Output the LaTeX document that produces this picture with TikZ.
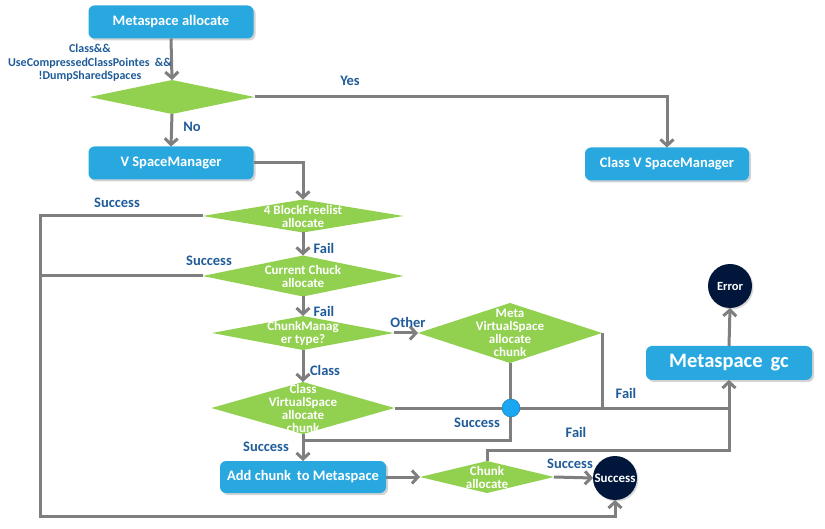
\documentclass[tikz,border=0pt]{standalone}
\usepackage{fontspec}
\setmainfont{Carlito}
\usetikzlibrary{shapes.geometric,arrows.meta,shadows}
\definecolor{boxblue}{HTML}{29A8E0}
\definecolor{dgreen}{HTML}{92D050}
\definecolor{lgray}{HTML}{7F7F7F}
\definecolor{lblue}{HTML}{1F5C99}
\definecolor{navy}{HTML}{00163A}
\definecolor{dotblue}{HTML}{1AA7F2}
\begin{document}
\begin{tikzpicture}[x=1pt,y=-1pt,
  bbox/.style={rectangle,rounded corners=6pt,fill=boxblue,text=white,font=\bfseries\fontsize{14.5}{16}\selectfont,
    inner sep=0pt,outer sep=0pt,drop shadow={shadow xshift=2pt,shadow yshift=-2pt,opacity=0.35}},
  dia/.style={diamond,fill=dgreen,inner sep=0pt,outer sep=0pt},
  dtext/.style={text=white,font=\bfseries\fontsize{13}{13}\selectfont,align=center,inner sep=0pt},
  endc/.style={circle,fill=navy,text=white,minimum size=44pt,inner sep=0pt,outer sep=0pt,
    drop shadow={shadow xshift=1.5pt,shadow yshift=-1.5pt,opacity=0.3}},
  lab/.style={text=lblue,font=\bfseries\fontsize{14.5}{16}\selectfont,inner sep=0pt},
  conn/.style={draw=lgray,line width=3pt},
  arr/.style={conn,-{Straight Barb[length=6pt,width=13pt]}}]
\useasboundingbox (0,0) rectangle (825,529);

% nodes
\node[bbox,minimum width=165pt,minimum height=33pt] (ma) at (171,22) {Metaspace allocate};
\node[dia,minimum width=165pt,minimum height=34pt] (q) at (172,97) {};
\node[bbox,minimum width=165pt,minimum height=33pt] (vsm) at (171,163) {V SpaceManager};
\node[bbox,minimum width=164pt,minimum height=33pt] (cvsm) at (667,164) {Class V SpaceManager};
\node[dia,minimum width=201pt,minimum height=33pt] (d1) at (303,216) {};
\node[dia,minimum width=201pt,minimum height=41pt] (d2) at (303,276) {};
\node[dia,minimum width=182pt,minimum height=34pt] (d3) at (303,333) {};
\node[dia,minimum width=184pt,minimum height=60pt] (dm) at (510,333) {};
\node[dia,minimum width=183pt,minimum height=52pt] (dc) at (303,408) {};
\node[bbox,minimum width=166pt,minimum height=32pt] (ac) at (303,477) {Add chunk\, to Metaspace};
\node[dia,minimum width=134pt,minimum height=32pt] (ca) at (487,477) {};
\node[bbox,minimum width=166pt,minimum height=34pt,font=\bfseries\fontsize{20.5}{22}\selectfont] (gc) at (729,363) {Metaspace\, gc};
\node[endc,font=\bfseries\fontsize{12.5}{14}\selectfont] (err) at (730,286) {Error};
\node[endc,font=\bfseries\fontsize{13}{14}\selectfont] (succ) at (615,478) {Success};

% diamond texts
\node[dtext] (t1) at (303,216) {4 BlockFreelist\\allocate};
\node[dtext] (t2) at (303,276) {Current Chuck\\allocate};
\node[dtext] (t3) at (303,333) {ChunkManag\\er type?};
\node[dtext] (tm) at (510,333) {Meta\\VirtualSpace\\allocate\\chunk};
\node[dtext] (tc) at (303,408) {Class\\VirtualSpace\\allocate\\chunk};
\node[dtext] (tca) at (487,477) {Chunk\\allocate};

\coordinate (lt) at (40,216);
\coordinate (lb) at (40,516);

% connectors
\draw[arr] (ma.south) -- (q.north);
\draw[arr] (q.east) -| (cvsm.north);
\draw[arr] (q.south) -- (vsm.north);
\draw[arr] (vsm.east) -| (d1.north);
\draw[arr] (d1.west) -- (lt) -- (lb) -| (succ.south);
\draw[conn] (d2.west) -- (d2.west -| lt);
\draw[arr] (d1.south) -- (d2.north);
\draw[arr] (d2.south) -- (d3.north);
\draw[arr] (d3.east) -- (dm.west);
\draw[arr] (d3.south) -- (dc.north);
\draw[conn] (dc.east) -- (dc.east -| gc.south);
\draw[conn] (dm.east) -- (dm.east |- dc.east);
\draw[conn] (dm.south) -- (dm.south |- 0,440) -- (dc.south |- 0,440);
\draw[arr] (dc.south) -- (ac.north);
\draw[arr] (ac.east) -- (ca.west);
\draw[arr] (ca.east) -- (succ.west);
\draw[arr] (ca.north) -- ++(0,-11) -| (gc.south);
\draw[arr] (gc.north) -- (err.south);
\node[circle,fill=dotblue,draw=dotblue!70!black,line width=0.4pt,minimum size=18pt,inner sep=0pt] (dot) at (511,408) {};

% labels
\node[lab,align=center,font=\bfseries\fontsize{12}{13.5}\selectfont] (cl) at (90,63) {Class\&\&\\UseCompressedClassPointes\ \ \&\&\\!DumpSharedSpaces};
\node[lab] (lyes) at (350,81) {Yes};
\node[lab] (lno) at (192,127) {No};
\node[lab] (ls1) at (117,203) {Success};
\node[lab] (lf1) at (324,248) {Fail};
\node[lab] (ls2) at (209,261) {Success};
\node[lab] (lf2) at (324,311) {Fail};
\node[lab] (lot) at (408,322) {Other};
\node[lab] (lcl) at (325,370) {Class};
\node[lab] (ls3) at (477,423) {Success};
\node[lab] (lf3) at (626,393) {Fail};
\node[lab] (ls4) at (266,447) {Success};
\node[lab] (lf4) at (576,432) {Fail};
\node[lab] (ls5) at (570,464) {Success};
\end{tikzpicture}
\end{document}
